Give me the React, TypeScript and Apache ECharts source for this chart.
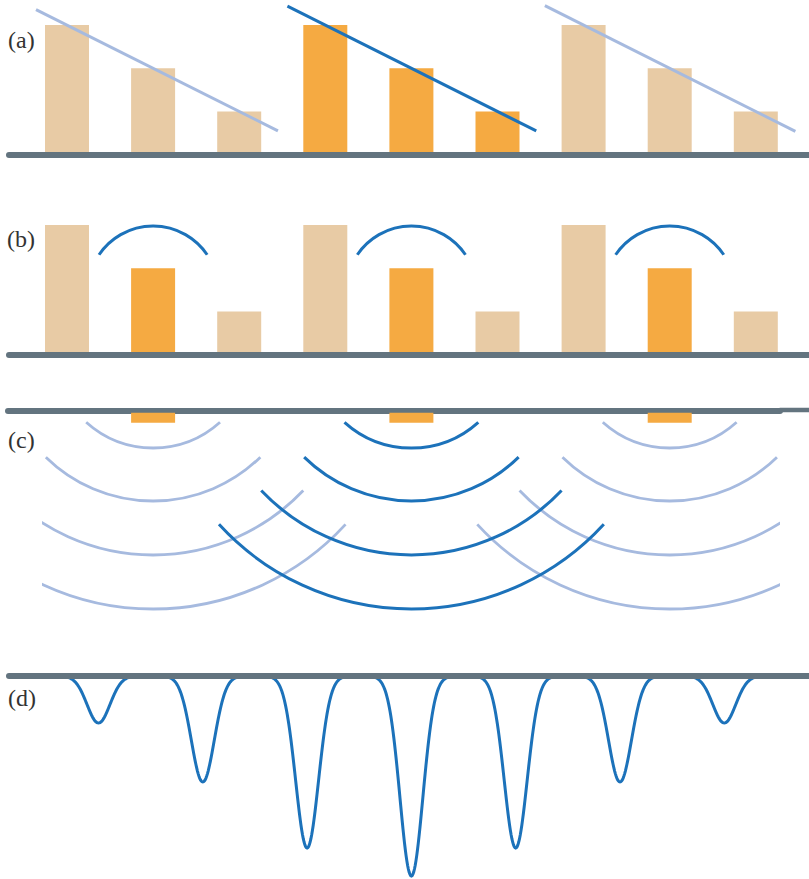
import React, { useEffect, useRef } from "react";
import * as echarts from "echarts";

// ---------- data ----------
const barPositions = [0, 1, 2, 3, 4, 5, 6, 7, 8];
const barValues = [3, 2, 1, 3, 2, 1, 3, 2, 1];
const highlightA = [0, 0, 0, 1, 1, 1, 0, 0, 0];
const highlightB = [0, 1, 0, 0, 1, 0, 0, 1, 0];

const trendLines = [
  [[-0.36, 3.36], [2.45, 0.55]],
  [[2.56, 3.44], [5.45, 0.55]],
  [[5.55, 3.45], [8.46, 0.54]],
];
const trendHighlight = [0, 1, 0];

// arcs above the middle bars in (b): [x, centerValue, radius]
const bArcs = [
  [1, 1.47, 1.51],
  [4, 1.47, 1.51],
  [7, 1.47, 1.51],
];
const bArcHalfAngle = 56;

// (c) sources and wavefronts
const cSources = [1, 4, 7];
const cSourceHighlight = [0, 1, 0];
const cSourceDepth = [1, 1, 1];
const cRingCenter = -63;
const cRingRadii = [100, 153, 207, 261];
const cRingHalfAngles = [42, 44.5, 46.5, 47.5];

// (d) intensity dips
const dPeakPositions = [-3, -2, -1, 0, 1, 2, 3];
const dPeakDepths = [47, 106, 172, 200, 172, 106, 47];
const dPeakSigma = 0.11;

const panelLabels = ["(a)", "(b)", "(c)", "(d)"];

// ---------- style / layout ----------
const TAN = "#E8CBA5";
const ORANGE = "#F5AA42";
const LIGHT = "#A6BADF";
const DARK = "#1C72BA";
const AXIS = "#63747F";
const TEXT = "#333333";

const X0 = 67;
const K = 86.1;
const xr = (L: number, R: number) => ({ min: (L - X0) / K, max: (R - X0) / K });
const UNIT = 43.2;
const labelPos = [
  [8, 39.5],
  [7, 238.7],
  [8, 439.5],
  [8, 698],
];

const hidden = {
  axisLabel: { show: false },
  axisTick: { show: false },
  splitLine: { show: false },
};

function xAxisDef(gridIndex: number, range: { min: number; max: number }, opts: any) {
  return {
    type: "value",
    gridIndex,
    min: range.min,
    max: range.max,
    ...hidden,
    ...opts,
  };
}

function yAxisDef(gridIndex: number, min: number, max: number, inverse = false) {
  return {
    type: "value",
    gridIndex,
    min,
    max,
    inverse,
    axisLine: { show: false },
    ...hidden,
  };
}

const axisLine = (w: number) => ({ show: true, onZero: false, lineStyle: { color: AXIS, width: w } });

export default function App() {
  const ref = useRef<HTMLDivElement>(null);

  useEffect(() => {
    document.body.style.margin = "0";
    if (!ref.current) return;
    const chart = echarts.init(ref.current, undefined, { renderer: "svg" });

    const yMaxAB = 154.7 / UNIT;

    const ringItems: any[] = [];
    [0, 1].forEach((pass) => {
      cSources.forEach((sx, si) => {
        if (cSourceHighlight[si] !== pass) return;
        cRingRadii.forEach((r, ri) => {
          ringItems.push([sx, cRingCenter, r, cRingHalfAngles[ri], cSourceHighlight[si]]);
        });
      });
    });

    const option: any = {
      animation: false,
      grid: [
        { left: 9, top: 0, width: 800, height: 154.7, outerBoundsMode: "none" },
        { left: 9, top: 200, width: 800, height: 154.7, outerBoundsMode: "none" },
        { left: 8, top: 411, width: 772, height: 100, outerBoundsMode: "none" },
        { left: 42, top: 411, width: 738, height: 250, outerBoundsMode: "none" },
        { left: 780, top: 410.2, width: 29, height: 10, outerBoundsMode: "none" },
        { left: 9, top: 676, width: 800, height: 203, outerBoundsMode: "none" },
      ],
      xAxis: [
        xAxisDef(0, xr(9, 809), { position: "bottom", axisLine: axisLine(6), z: 5 }),
        xAxisDef(1, xr(9, 809), { position: "bottom", axisLine: axisLine(6), z: 5 }),
        xAxisDef(2, xr(8, 780), { position: "top", axisLine: axisLine(6), z: 0 }),
        xAxisDef(3, xr(42, 780), { axisLine: { show: false } }),
        xAxisDef(4, { min: 0, max: 1 }, { position: "top", axisLine: axisLine(4.3) }),
        xAxisDef(5, { min: (9 - 411.4) / 104.3, max: (809 - 411.4) / 104.3 }, {
          position: "top",
          axisLine: axisLine(6),
          z: 5,
        }),
      ],
      yAxis: [
        yAxisDef(0, 0, yMaxAB),
        yAxisDef(1, 0, yMaxAB),
        yAxisDef(2, -0.17, 9.83, true),
        yAxisDef(3, 0, 250, true),
        yAxisDef(4, 0, 1),
        yAxisDef(5, 0, 203, true),
      ],
      graphic: panelLabels.map((t, i) => ({
        type: "text",
        x: labelPos[i][0],
        y: labelPos[i][1],
        style: {
          text: t,
          fontFamily: "Liberation Serif",
          fontSize: 24,
          fill: TEXT,
          verticalAlign: "middle",
        },
      })),
      series: [
        {
          type: "bar",
          xAxisIndex: 0,
          yAxisIndex: 0,
          barWidth: 44,
          data: barPositions.map((x, i) => ({
            value: [x, barValues[i]],
            itemStyle: { color: highlightA[i] ? ORANGE : TAN },
          })),
        },
        ...trendLines.map((pts, i) => ({
          type: "line",
          xAxisIndex: 0,
          yAxisIndex: 0,
          symbol: "none",
          z: 3,
          data: pts,
          lineStyle: { color: trendHighlight[i] ? DARK : LIGHT, width: 3, cap: "butt" },
        })),
        {
          type: "bar",
          xAxisIndex: 1,
          yAxisIndex: 1,
          barWidth: 44,
          data: barPositions.map((x, i) => ({
            value: [x, barValues[i]],
            itemStyle: { color: highlightB[i] ? ORANGE : TAN },
          })),
        },
        {
          type: "custom",
          xAxisIndex: 1,
          yAxisIndex: 1,
          z: 3,
          data: bArcs,
          renderItem: (params: any, api: any) => {
            const c = api.coord([api.value(0), api.value(1)]);
            const top = api.coord([api.value(0), api.value(1) + api.value(2)]);
            const r = Math.abs(c[1] - top[1]);
            const h = (bArcHalfAngle * Math.PI) / 180;
            return {
              type: "arc",
              shape: { cx: c[0], cy: c[1], r, startAngle: -Math.PI / 2 - h, endAngle: -Math.PI / 2 + h, clockwise: true },
              style: { stroke: DARK, lineWidth: 3, fill: "none" },
            };
          },
        },
        {
          type: "bar",
          xAxisIndex: 2,
          yAxisIndex: 2,
          barWidth: 44,
          z: 3,
          data: cSources.map((x, i) => [x, cSourceDepth[i]]),
          itemStyle: { color: ORANGE },
        },
        {
          type: "custom",
          xAxisIndex: 3,
          yAxisIndex: 3,
          clip: true,
          data: ringItems,
          renderItem: (params: any, api: any) => {
            const x = api.value(0);
            const cyv = api.value(1);
            const c = api.coord([x, cyv]);
            const b = api.coord([x, cyv + api.value(2)]);
            const r = Math.abs(b[1] - c[1]);
            const h = (api.value(3) * Math.PI) / 180;
            const dark = api.value(4) === 1;
            return {
              type: "arc",
              shape: { cx: c[0], cy: c[1], r, startAngle: Math.PI / 2 - h, endAngle: Math.PI / 2 + h, clockwise: true },
              style: { stroke: dark ? DARK : LIGHT, lineWidth: dark ? 3 : 2.8, fill: "none" },
            };
          },
        },
        {
          type: "custom",
          xAxisIndex: 5,
          yAxisIndex: 5,
          data: dPeakPositions.map((p, i) => [p, dPeakDepths[i]]),
          renderItem: (params: any, api: any) => {
            const pos = api.value(0);
            const depth = api.value(1);
            const pts: number[][] = [];
            for (let k = -60; k <= 60; k++) {
              const x = pos + (k / 15) * dPeakSigma;
              const y = depth * Math.exp(-((x - pos) ** 2) / (2 * dPeakSigma * dPeakSigma));
              pts.push(api.coord([x, y]));
            }
            return {
              type: "polyline",
              shape: { points: pts },
              style: { stroke: DARK, lineWidth: 3, fill: "none" },
            };
          },
        },
      ],
    };

    chart.setOption(option);
    return () => chart.dispose();
  }, []);

  return <div ref={ref} style={{ width: 809, height: 879 }} />;
}
